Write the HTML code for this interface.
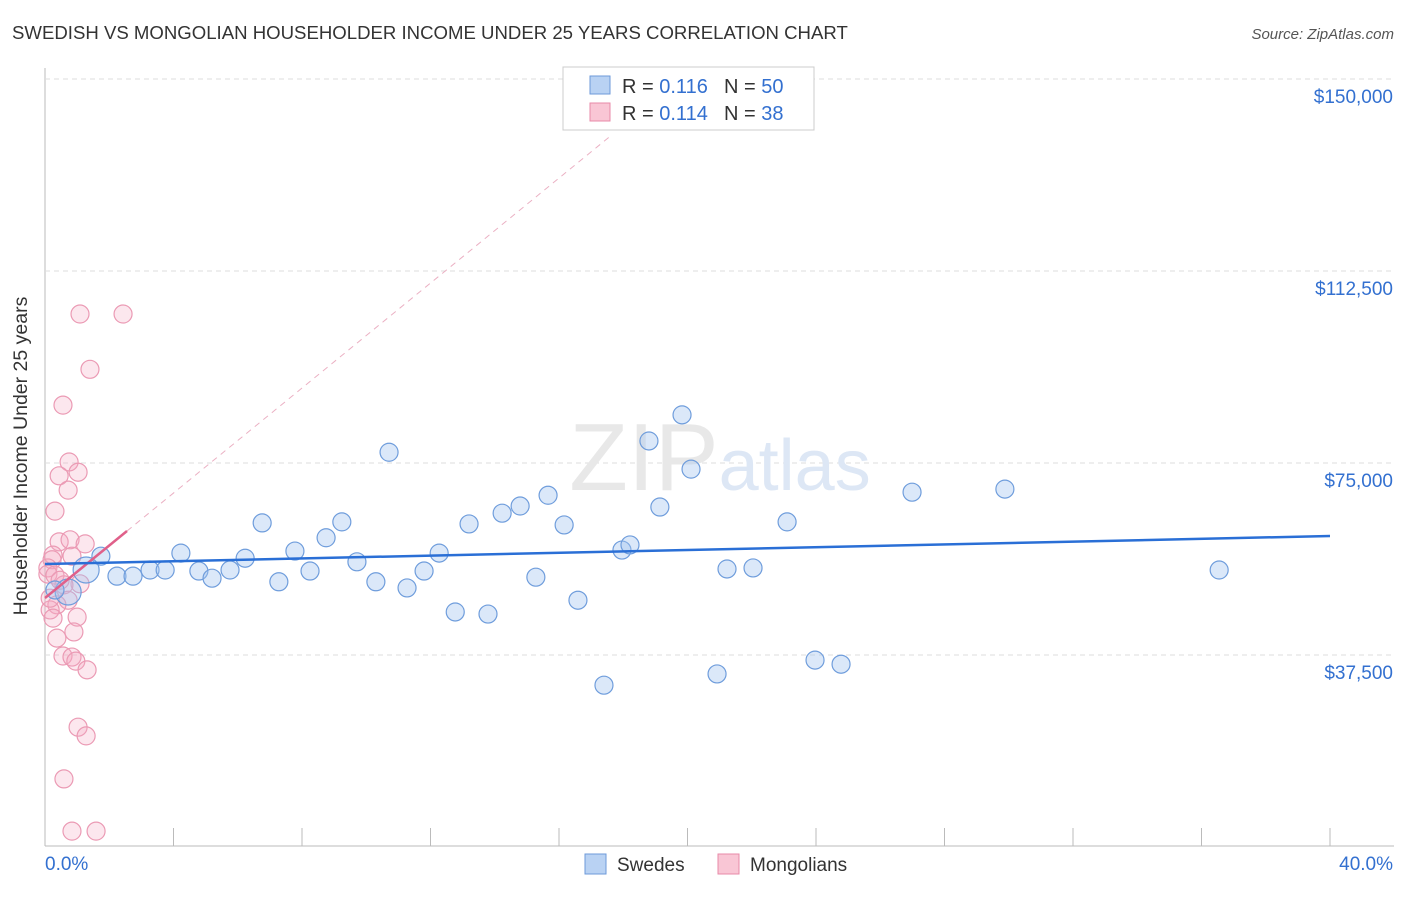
<!DOCTYPE html>
<html><head><meta charset="utf-8"><style>
body{margin:0;background:#fff;font-family:"Liberation Sans",sans-serif;}
svg text{font-family:"Liberation Sans",sans-serif;}
</style></head><body>
<svg id="chart" width="1406" height="892" viewBox="0 0 1406 892">
<text x="12" y="39" font-size="18.6" fill="#333">SWEDISH VS MONGOLIAN HOUSEHOLDER INCOME UNDER 25 YEARS CORRELATION CHART</text>
<text x="1394" y="39" font-size="15" fill="#555" font-style="italic" text-anchor="end">Source: ZipAtlas.com</text>
<g id="grid"></g>
<text x="720" y="490" font-size="96" fill="#e8e8e8" text-anchor="middle" font-family="Liberation Serif">ZIP<tspan fill="#dde7f5" font-family="Liberation Sans" font-size="72">atlas</tspan></text>
<g id="marks"></g>
<text x="27" y="456" font-size="19.5" fill="#333" text-anchor="middle" transform="rotate(-90 27 456)">Householder Income Under 25 years</text>
<g>
<rect x="563" y="67" width="251" height="63" fill="#fff" stroke="#ccc"/>
<rect x="590" y="76" width="20" height="18" fill="#b9d2f3" stroke="#6d9ad9"/>
<rect x="590" y="103" width="20" height="18" fill="#f9c6d5" stroke="#e88aa8"/>
<text x="622" y="93" font-size="20" fill="#333">R = <tspan fill="#3370d0">0.116</tspan></text>
<text x="724" y="93" font-size="20" fill="#333">N = <tspan fill="#3370d0">50</tspan></text>
<text x="622" y="120" font-size="20" fill="#333">R = <tspan fill="#3370d0">0.114</tspan></text>
<text x="724" y="120" font-size="20" fill="#333">N =  <tspan fill="#3370d0">38</tspan></text>
</g>
<g>
<rect x="585" y="854" width="21" height="20" fill="#b9d2f3" stroke="#6d9ad9"/>
<text x="617" y="871" font-size="19" fill="#333">Swedes</text>
<rect x="718" y="854" width="21" height="20" fill="#f9c6d5" stroke="#e88aa8"/>
<text x="750" y="871" font-size="19" fill="#333">Mongolians</text>
</g>
</svg>
<script>
const yTicks=[37500,75000,112500,150000];
const yTickLabels=["$37,500","$75,000","$112,500","$150,000"];
const xTickLabels=["0.0%","40.0%"];
const swedesX=[1.74,2.24,2.74,3.27,3.74,4.23,4.79,5.20,5.76,6.23,6.76,7.28,7.78,8.25,8.75,9.24,9.71,10.30,10.71,11.27,11.80,12.27,12.77,13.20,13.79,14.23,14.79,15.28,15.66,16.16,16.59,17.40,17.96,18.21,18.80,19.14,19.83,20.11,20.92,21.23,22.04,23.10,23.97,24.78,26.99,29.88,36.55,1.28,0.72,0.31];
const swedesY=[56800,52900,52900,54100,54100,57400,53900,52500,54100,56400,63300,51800,57800,53900,60400,63500,55700,51800,77100,50600,53900,57400,45900,63100,45500,65200,66600,52700,68700,62900,48200,31600,58000,59000,79300,66400,84400,73800,33800,54300,54500,63500,36500,35700,69300,69900,54100,54100,49800,50200];
const mongX=[1.09,2.43,1.40,0.56,0.75,1.03,0.44,0.72,0.31,0.44,0.78,1.25,0.84,0.25,0.22,0.09,0.09,0.31,1.09,0.59,0.72,0.37,0.16,1.00,0.25,0.90,0.37,0.56,0.84,0.96,1.31,1.03,1.28,0.59,0.84,1.59,0.16,0.47];
const mongY=[104100,104100,93300,86300,75200,73200,72500,69700,65600,59600,60000,59200,56800,57000,56100,54500,53300,53100,51400,51200,48200,47300,46300,44900,44700,42000,40800,37300,37100,36300,34600,23400,21700,13300,3100,3100,48600,52100];
const blueFit=[55270,60740];
const pinkFit=[48630,0.817];
const X0=45,X1=1330,Y0=847,PX=192/37500;
const sx=v=>X0+(v/40)*(X1-X0);
const sy=v=>Y0-v*PX;
const NS="http://www.w3.org/2000/svg";
const grid=document.getElementById('grid'),marks=document.getElementById('marks');
function mk(tag,attrs,parent){const e=document.createElementNS(NS,tag);for(const k in attrs)e.setAttribute(k,attrs[k]);parent.appendChild(e);return e;}
let ax=mk('line',{x1:45,y1:68,x2:45,y2:846,stroke:'#bbb'},grid);


let bx=mk('line',{x1:45,y1:846,x2:1394,y2:846,stroke:'#bbb'},grid);


yTicks.forEach((t,i)=>{
 let g=mk('line',{x1:45,y1:sy(t),x2:1394,y2:sy(t),stroke:'#ddd','stroke-dasharray':'5,4'},grid);
 
 
 let tx=mk('text',{x:1393,y:sy(t)+24,'font-size':19,fill:'#3370d0','text-anchor':'end'},grid);
 tx.textContent=yTickLabels[i];
 
 
});
for(let i=0;i<=10;i++){
 let t=mk('line',{x1:sx(i*4),y1:828,x2:sx(i*4),y2:846,stroke:'#bbb'},grid);
 
 
}
let l0=mk('text',{x:45,y:870,'font-size':19,fill:'#3370d0'},grid);l0.textContent=xTickLabels[0];


let l1=mk('text',{x:1393,y:870,'font-size':19,fill:'#3370d0','text-anchor':'end'},grid);l1.textContent=xTickLabels[1];


mongX.forEach((x,i)=>{
 let c=mk('circle',{cx:sx(x),cy:sy(mongY[i]),r:9,fill:'rgba(246,170,195,0.28)',stroke:'#eb9ab4','stroke-width':1.2},marks);
 
 
});
swedesX.forEach((x,i)=>{
 let r=i>=47&&i<=48?13:9;
 let c=mk('circle',{cx:sx(x),cy:sy(swedesY[i]),r:r,fill:'rgba(160,195,240,0.38)',stroke:'#6f9ddc','stroke-width':1.2},marks);
 
 
});
const py=px=>sy(pinkFit[0])-pinkFit[1]*(px-X0);
let pd=mk('line',{x1:127,y1:py(127),x2:610,y2:py(610),stroke:'#ebb0c3','stroke-width':1,'stroke-dasharray':'6,5'},marks);


let ps=mk('line',{x1:45,y1:py(45),x2:127,y2:py(127),stroke:'#e0608a','stroke-width':2.5},marks);


let bl=mk('line',{x1:sx(0),y1:sy(blueFit[0]),x2:sx(40),y2:sy(blueFit[1]),stroke:'#2a6fd6','stroke-width':2.5},marks);


</script>
</body></html>
